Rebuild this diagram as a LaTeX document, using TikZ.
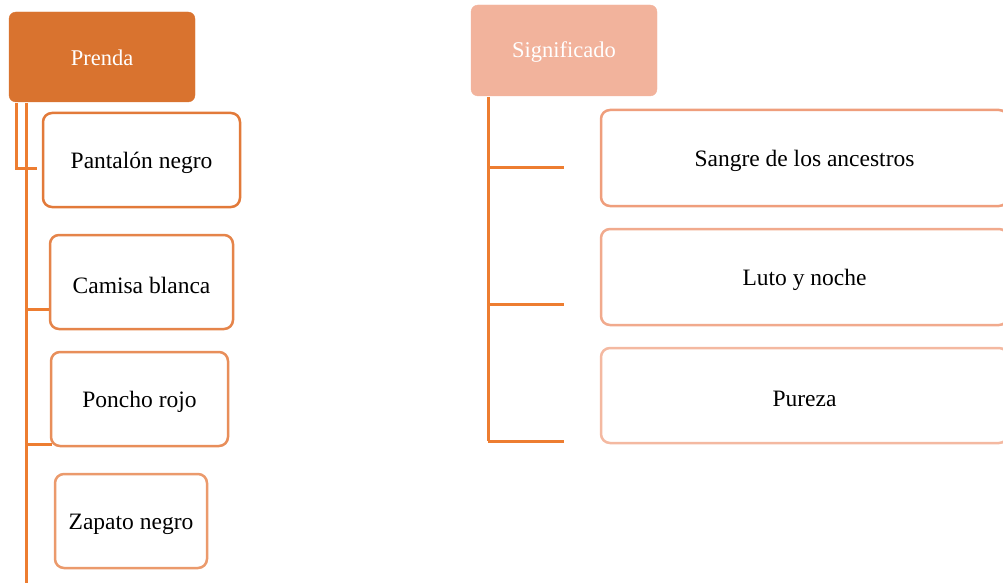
\documentclass[tikz,border=0pt]{standalone}
\usepackage{fontspec}
\setmainfont{Liberation Serif}
\definecolor{lineor}{HTML}{ED7D31}
\definecolor{headA}{HTML}{D9732F}
\definecolor{headB}{HTML}{F2B39C}
\definecolor{bA}{HTML}{E27A3A}
\definecolor{bB}{HTML}{E5844A}
\definecolor{bC}{HTML}{E88E5A}
\definecolor{bD}{HTML}{EB9A6C}
\definecolor{rA}{HTML}{EF9E7C}
\definecolor{rB}{HTML}{F1AA8D}
\definecolor{rC}{HTML}{F4B9A1}
\begin{document}
\begin{tikzpicture}[x=1pt,y=-1pt,
  headbox/.style={rounded corners=7pt},
  headtext/.style={text=white, font=\fontsize{22.5}{27}\selectfont},
  itembox/.style={rounded corners=9pt, line width=2.5pt, fill=white},
  itemtext/.style={font=\fontsize{23.5}{28}\selectfont},
  conn/.style={lineor, line width=3pt}]
\useasboundingbox (0,0) rectangle (1003,583);
\clip (0,0) rectangle (1003,583);
% heads
\filldraw[headbox, fill=headA, draw=headA] (9,12) rectangle (195,102);
\node[headtext] (prenda) at (102,58) {Prenda};
\filldraw[headbox, fill=headB, draw=headB] (471,5) rectangle (657,96);
\node[headtext] (sig) at (564,52.5) {Significado};
% left connectors
\coordinate (la) at (16,103);
\coordinate (lb) at (16,168);
\coordinate (lc) at (37,168);
\coordinate (ld) at (26,103);
\coordinate (le) at (26,583);
\draw[conn] (la) -- (lb) -- (lc);
\draw[conn] (ld) -- (le);
\coordinate (c2) at (26,309);
\coordinate (c2e) at (51,309);
\coordinate (c3) at (26,444);
\coordinate (c3e) at (52,444);
\draw[conn] (c2) -- (c2e);
\draw[conn] (c3) -- (c3e);
% left items
\draw[itembox, draw=bA] (43,113) rectangle (240,207);
\node[itemtext] (pan) at (141.5,163) {Pantalón negro};
\draw[itembox, draw=bB] (50,235) rectangle (233,329);
\node[itemtext] (cam) at (141.5,285) {Camisa blanca};
\draw[itembox, draw=bC] (51,352) rectangle (228,446);
\node[itemtext] (pon) at (139.5,402) {Poncho rojo};
\draw[itembox, draw=bD] (55,474) rectangle (207,568);
\node[itemtext] (zap) at (131,524) {Zapato negro};
% right connectors
\coordinate (ra) at (488,97);
\coordinate (rb) at (488,441);
\draw[conn] (ra) -- (rb);
\coordinate (r1) at (488,167);
\coordinate (r1e) at (564,167);
\coordinate (r2) at (488,304);
\coordinate (r2e) at (564,304);
\coordinate (r3e) at (564,441);
\draw[conn] (r1) -- (r1e);
\draw[conn] (r2) -- (r2e);
\draw[conn] (rb) -- (r3e);
% right items
\draw[itembox, draw=rA] (601,110) rectangle (1008,206);
\node[itemtext] (s1) at (804.5,161) {Sangre de los ancestros};
\draw[itembox, draw=rB] (601,229) rectangle (1008,325);
\node[itemtext] (s2) at (804.5,280) {Luto y noche};
\draw[itembox, draw=rC] (601,348) rectangle (1008,443);
\node[itemtext] (s3) at (804.5,399) {Pureza};
\end{tikzpicture}
\end{document}
